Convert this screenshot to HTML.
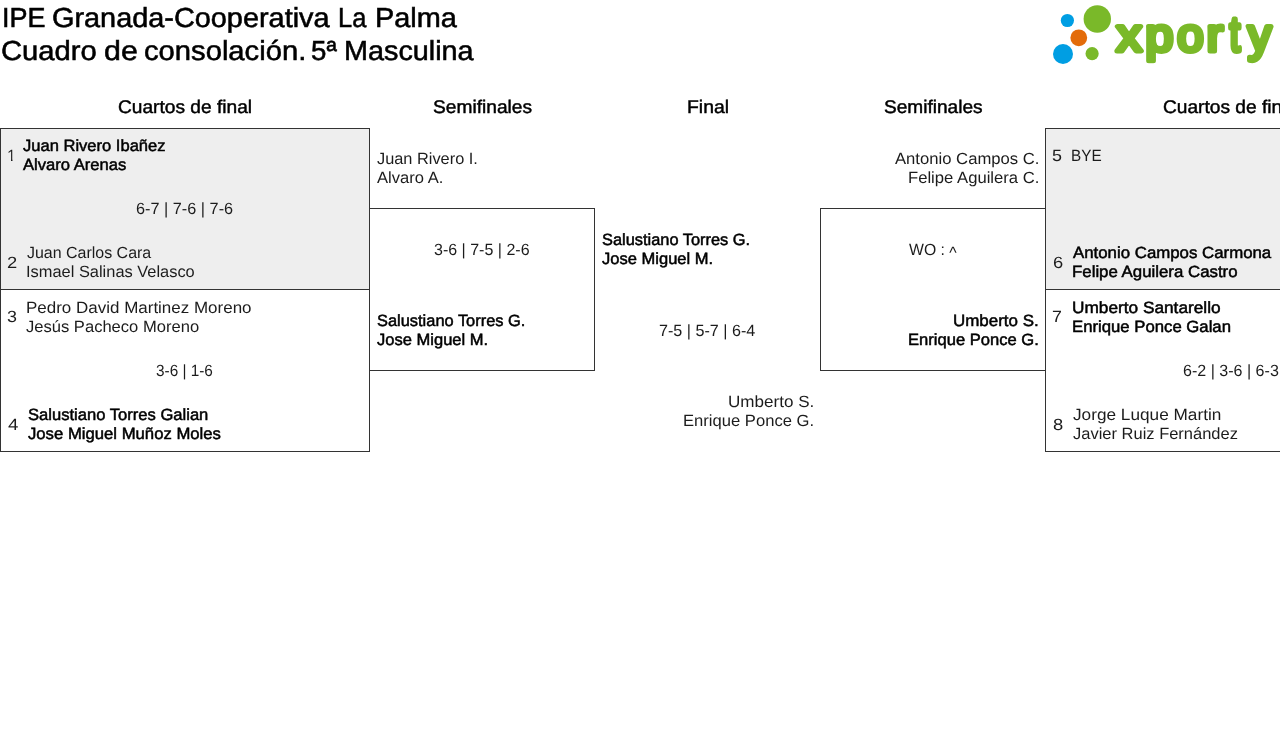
<!DOCTYPE html>
<html lang="es">
<head>
<meta charset="utf-8">
<title>IPE Granada-Cooperativa La Palma - Cuadro de consolación. 5ª Masculina</title>
<style>
html,body{margin:0;padding:0;background:#fff;}
body{font-family:"Liberation Sans", sans-serif;color:#000;}
.x{position:absolute;white-space:nowrap;transform-origin:0 0;display:block;text-rendering:geometricPrecision;}
.tx{position:absolute;left:0;top:0;width:1280px;height:730px;overflow:hidden;will-change:transform;}
.w{display:inline-block;transform-origin:0 0;}
.s27{font-size:27.5px;line-height:33px;}
.s18{font-size:18.3px;line-height:22px;}
.s16{font-size:16.2px;line-height:20px;}
.r{font-weight:400;color:#1c1c1c;}
.m{font-weight:400;-webkit-text-stroke:0.5px #000;}
.t{font-weight:400;-webkit-text-stroke:0.55px #000;}
.h{font-weight:400;-webkit-text-stroke:0.45px #000;}
body{width:1280px;height:730px;overflow:hidden;position:relative;}
.bx{position:absolute;box-sizing:border-box;border:0 solid #333;}
.logo{position:absolute;left:1040px;top:0;overflow:visible;}
</style>
</head>
<body>
<div class="tx">
<header class="header">
<div class="title">
<div class="x s27 t" style="left:0;top:1px"><span class="w" style="margin-left:1.69px;transform:scaleX(0.9818)">IPE</span> <span class="w" style="margin-left:-2.11px;transform:scaleX(1.0495)">Granada-Cooperativa</span> <span class="w" style="margin-left:14.09px;transform:scaleX(0.9241)">La</span> <span class="w" style="margin-left:-0.69px;transform:scaleX(1.0505)">Palma</span></div>
<div class="x s27 t" style="left:0;top:34px"><span class="w" style="margin-left:1.24px;transform:scaleX(1.0618)">Cuadro</span> <span class="w" style="margin-left:4.49px;transform:scaleX(1.1034)">de</span> <span class="w" style="margin-left:1.80px;transform:scaleX(1.0613)">consolación.</span> <span class="w" style="margin-left:6.73px;transform:scaleX(1.0059)">5ª</span> <span class="w" style="margin-left:-0.06px;transform:scaleX(1.0471)">Masculina</span></div>
</div>
<svg class="logo" role="img" aria-label="xporty" width="240" height="72" viewBox="1040 0 240 72">
<defs><clipPath id="lc"><rect x="1100" y="0" width="180" height="63.8"/></clipPath></defs>
<circle cx="1067.4" cy="20.5" r="6.6" fill="#009ee3"/>
<circle cx="1097.3" cy="19" r="13.7" fill="#7ab929"/>
<circle cx="1078.8" cy="37.8" r="8.4" fill="#e36c0a"/>
<circle cx="1063" cy="54" r="10" fill="#009ee3"/>
<circle cx="1092.1" cy="53.7" r="6.6" fill="#7ab929"/>
<g font-family="Liberation Sans, sans-serif" font-weight="400" font-size="46.5" fill="#7ab929" stroke="#7ab929" stroke-width="5.0" stroke-linejoin="round" stroke-linecap="round" text-rendering="geometricPrecision" clip-path="url(#lc)">
<text y="51.30"><tspan x="1116.64" textLength="25.19" lengthAdjust="spacingAndGlyphs">x</tspan><tspan x="1145.47" textLength="27.75" lengthAdjust="spacingAndGlyphs">p</tspan><tspan x="1177.36" textLength="26.29" lengthAdjust="spacingAndGlyphs">o</tspan><tspan x="1206.68" textLength="16.30" lengthAdjust="spacingAndGlyphs">r</tspan><tspan x="1229.57" textLength="10.76" lengthAdjust="spacingAndGlyphs" font-size="49.5">t</tspan><tspan x="1247.88" textLength="23.21" lengthAdjust="spacingAndGlyphs">y</tspan></text>
</g>
</svg>
</header>
<main class="bracket">
<section class="round">
<div class="x s18 h" style="left:118.21px;top:96.00px;transform:scaleX(1.0471)">Cuartos de final</div>
<div class="match">
<div class="bx" style="left:0;top:128px;width:370px;height:162px;background:#eee;border-width:1px"></div>
<div class="team">
<div class="x s16 r" style="left:7.00px;top:146.00px;clip-path:polygon(0 0,5.5px 0,5.5px 20px,4px 20px,4px 12.9px,0 12.9px)">1</div>
<div class="x s16 m" style="left:23.00px;top:136.00px;transform:scaleX(1.0216)">Juan Rivero Ibañez</div>
<div class="x s16 m" style="left:23.26px;top:155.00px;transform:scaleX(1.0248)">Alvaro Arenas</div>
</div>
<div class="x s16 r" style="left:136.25px;top:199.00px;transform:scaleX(1.0053)">6-7 | 7-6 | 7-6</div>
<div class="team">
<div class="x s16 r" style="left:7.15px;top:253.00px;transform:scaleX(1.1333)">2</div>
<div class="x s16 r" style="left:26.75px;top:243.00px;transform:scaleX(0.9861)">Juan Carlos Cara</div>
<div class="x s16 r" style="left:25.98px;top:262.00px;transform:scaleX(1.0137)">Ismael Salinas Velasco</div>
</div>
</div>
<div class="match">
<div class="bx" style="left:0;top:290px;width:370px;height:162px;border-width:0 1px 1px 1px"></div>
<div class="team">
<div class="x s16 r" style="left:7.07px;top:307.00px;transform:scaleX(1.1067)">3</div>
<div class="x s16 r" style="left:25.79px;top:298.00px;transform:scaleX(1.0488)">Pedro David Martinez Moreno</div>
<div class="x s16 r" style="left:25.84px;top:317.00px;transform:scaleX(1.0232)">Jesús Pacheco Moreno</div>
</div>
<div class="x s16 r" style="left:156.29px;top:361.00px;transform:scaleX(0.9487)">3-6 | 1-6</div>
<div class="team">
<div class="x s16 r" style="left:8.21px;top:415.00px;transform:scaleX(1.1515)">4</div>
<div class="x s16 m" style="left:27.99px;top:405.00px;transform:scaleX(1.0243)">Salustiano Torres Galian</div>
<div class="x s16 m" style="left:28.00px;top:424.00px;transform:scaleX(1.0308)">Jose Miguel Muñoz Moles</div>
</div>
</div>
</section>
<section class="round">
<div class="x s18 h" style="left:433.48px;top:96.00px;transform:scaleX(1.0481)">Semifinales</div>
<div class="match">
<div class="bx" style="left:370px;top:208px;width:225px;height:163px;border-width:1px 1px 1px 0"></div>
<div class="team">
<div class="x s16 r" style="left:376.75px;top:149.00px;transform:scaleX(1.0102)">Juan Rivero I.</div>
<div class="x s16 r" style="left:377.00px;top:168.00px;transform:scaleX(1.0237)">Alvaro A.</div>
</div>
<div class="x s16 r" style="left:434.26px;top:240.00px;transform:scaleX(0.9895)">3-6 | 7-5 | 2-6</div>
<div class="team">
<div class="x s16 m" style="left:376.99px;top:311.00px;transform:scaleX(1.0138)">Salustiano Torres G.</div>
<div class="x s16 m" style="left:377.00px;top:330.00px;transform:scaleX(1.0209)">Jose Miguel M.</div>
</div>
</div>
</section>
<section class="round">
<div class="x s18 h" style="left:686.92px;top:96.00px;transform:scaleX(1.0600)">Final</div>
<div class="match">
<div class="team">
<div class="x s16 m" style="left:601.99px;top:230.00px;transform:scaleX(1.0121)">Salustiano Torres G.</div>
<div class="x s16 m" style="left:602.00px;top:249.00px;transform:scaleX(1.0209)">Jose Miguel M.</div>
</div>
<div class="x s16 r" style="left:659.25px;top:321.00px;transform:scaleX(0.9974)">7-5 | 5-7 | 6-4</div>
<div class="team">
<div class="x s16 r" style="left:727.68px;top:392.00px;transform:scaleX(1.0536)">Umberto S.</div>
<div class="x s16 r" style="left:682.97px;top:411.00px;transform:scaleX(1.0260)">Enrique Ponce G.</div>
</div>
</div>
</section>
<section class="round">
<div class="x s18 h" style="left:883.73px;top:96.00px;transform:scaleX(1.0428)">Semifinales</div>
<div class="match">
<div class="bx" style="left:820px;top:208px;width:225px;height:163px;border-width:1px 0 1px 1px"></div>
<div class="team">
<div class="x s16 r" style="left:894.50px;top:149.00px;transform:scaleX(1.0288)">Antonio Campos C.</div>
<div class="x s16 r" style="left:907.72px;top:168.00px;transform:scaleX(1.0280)">Felipe Aguilera C.</div>
</div>
<div class="x s16 r" style="left:908.51px;top:240.00px;transform:scaleX(0.9742)">WO : <span style="position:relative;top:3px">^</span></div>
<div class="team">
<div class="x s16 m" style="left:952.95px;top:311.00px;transform:scaleX(1.0470)">Umberto S.</div>
<div class="x s16 m" style="left:907.98px;top:330.00px;transform:scaleX(1.0239)">Enrique Ponce G.</div>
</div>
</div>
</section>
<section class="round">
<div class="x s18 h" style="left:1163.46px;top:96.00px;transform:scaleX(1.0471)">Cuartos de final</div>
<div class="match">
<div class="bx" style="left:1045px;top:128px;width:370px;height:162px;background:#eee;border-width:1px"></div>
<div class="team">
<div class="x s16 r" style="left:1052.17px;top:146.00px;transform:scaleX(1.1067)">5</div>
<div class="x s16 r" style="left:1070.72px;top:146.00px;transform:scaleX(0.9459)">BYE</div>
</div>
<div class="team">
<div class="x s16 r" style="left:1052.65px;top:253.00px;transform:scaleX(1.1333)">6</div>
<div class="x s16 m" style="left:1072.76px;top:243.00px;transform:scaleX(1.0392)">Antonio Campos Carmona</div>
<div class="x s16 m" style="left:1071.96px;top:262.00px;transform:scaleX(1.0396)">Felipe Aguilera Castro</div>
</div>
</div>
<div class="match">
<div class="bx" style="left:1045px;top:290px;width:370px;height:162px;border-width:0 1px 1px 1px"></div>
<div class="team">
<div class="x s16 r" style="left:1052.17px;top:307.00px;transform:scaleX(1.1000)">7</div>
<div class="x s16 m" style="left:1071.93px;top:298.00px;transform:scaleX(1.0652)">Umberto Santarello</div>
<div class="x s16 m" style="left:1071.97px;top:317.00px;transform:scaleX(1.0329)">Enrique Ponce Galan</div>
</div>
<div class="x s16 r" style="left:1182.51px;top:361.00px;transform:scaleX(0.9921)">6-2 | 3-6 | 6-3</div>
<div class="team">
<div class="x s16 r" style="left:1052.65px;top:415.00px;transform:scaleX(1.1333)">8</div>
<div class="x s16 r" style="left:1072.73px;top:405.00px;transform:scaleX(1.0633)">Jorge Luque Martin</div>
<div class="x s16 r" style="left:1072.75px;top:424.00px;transform:scaleX(1.0186)">Javier Ruiz Fernández</div>
</div>
</div>
</section>
</main>
</div>
</body>
</html>
